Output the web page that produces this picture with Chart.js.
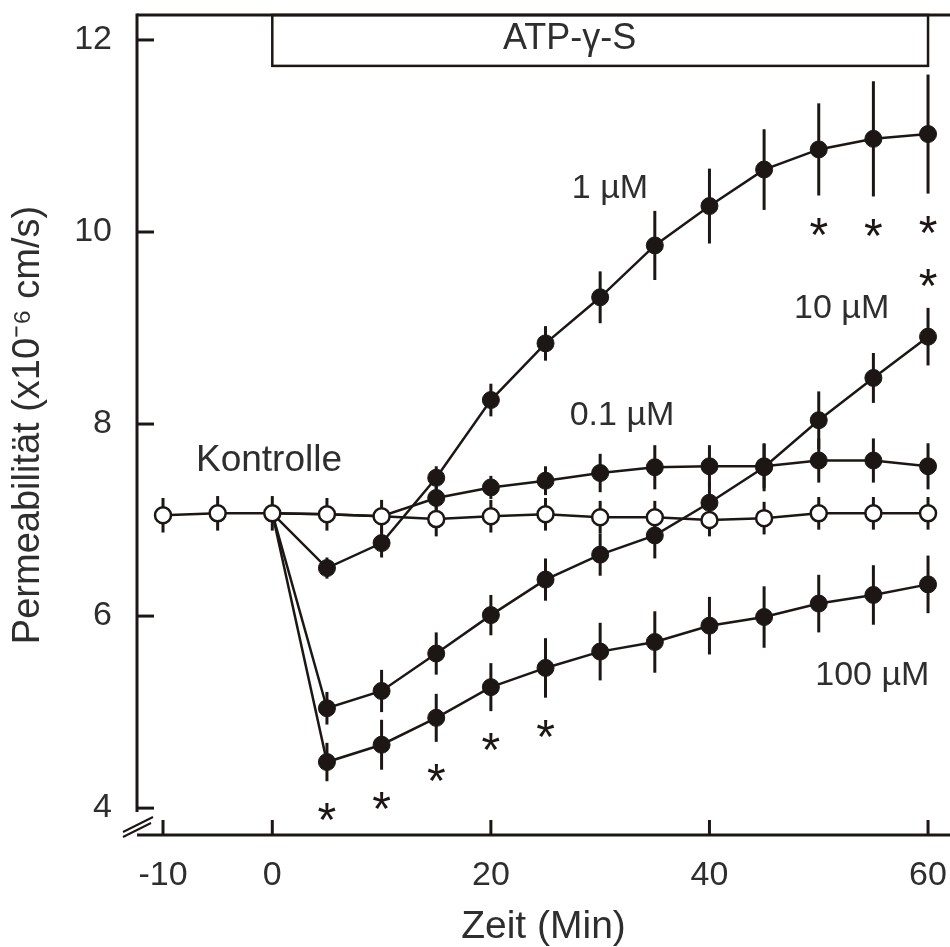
<!DOCTYPE html>
<html>
<head>
<meta charset="utf-8">
<script src="https://cdn.jsdelivr.net/npm/chart.js@4.4.1/dist/chart.umd.min.js"></script>
<style>
  html, body { margin: 0; padding: 0; background: #fff; }
  #wrap { width: 950px; height: 947px; }
</style>
</head>
<body>
<div id="wrap"><canvas id="chart" width="950" height="947"></canvas></div>
<script>
// time in minutes, ATP-gamma-S added at 0
const minutes = [-10, -5, 0, 5, 10, 15, 20, 25, 30, 35, 40, 45, 50, 55, 60];
const xTicks = [-10, 0, 20, 40, 60];
const yTicks = [4, 6, 8, 10, 12];
const atpPeriod = [0, 60];

const kontrolle    = [7.05, 7.07, 7.07, 7.06, 7.04, 7.01, 7.04, 7.06, 7.03, 7.03, 7.00, 7.02, 7.07, 7.07, 7.07];
const kontrolleErr = [0.18, 0.18, 0.18, 0.17, 0.17, 0.18, 0.17, 0.17, 0.17, 0.17, 0.17, 0.17, 0.17, 0.17, 0.17];

const atp01    = [null, null, 7.07, 7.06, 7.04, 7.23, 7.34, 7.41, 7.49, 7.55, 7.56, 7.56, 7.62, 7.62, 7.56];
const atp01Err = [null, null, null, null, null, 0.12, 0.12, 0.15, 0.20, 0.23, 0.22, 0.23, 0.23, 0.23, 0.24];

const atp1    = [null, null, 7.07, 6.50, 6.76, 7.44, 8.25, 8.84, 9.32, 9.86, 10.27, 10.65, 10.86, 10.97, 11.02];
const atp1Err = [null, null, null, 0.11, 0.15, 0.12, 0.17, 0.18, 0.27, 0.36, 0.39, 0.42, 0.48, 0.60, 0.62];

const atp10    = [null, null, 7.07, 5.04, 5.22, 5.61, 6.01, 6.38, 6.64, 6.84, 7.18, 7.55, 8.04, 8.48, 8.91];
const atp10Err = [null, null, null, 0.17, 0.22, 0.22, 0.21, 0.22, 0.22, 0.24, 0.22, 0.25, 0.30, 0.26, 0.30];

const atp100    = [null, null, 7.07, 4.48, 4.66, 4.94, 5.26, 5.46, 5.63, 5.73, 5.90, 5.99, 6.13, 6.22, 6.33];
const atp100Err = [null, null, null, 0.20, 0.26, 0.25, 0.25, 0.31, 0.30, 0.32, 0.30, 0.32, 0.30, 0.31, 0.30];

// significant time points (*)
const sig1 = [50, 55, 60];
const sig10 = [60];
const sig100 = [5, 10, 15, 20, 25];

const ink = '#1c1715';
const textInk = '#2e2e2e';
const family = '"Liberation Sans", Arial, Helvetica, sans-serif';

// text placed in the plot (x in min, y in units of the axis)
const notes = [
  { text: 'Kontrolle', x: -0.3, y: 7.65, size: 37 },
  { text: '1 µM', x: 30.9, y: 10.44, size: 34 },
  { text: '0.1 µM', x: 32.0, y: 8.07, size: 34 },
  { text: '10 µM', x: 52.1, y: 9.19, size: 34 },
  { text: '100 µM', x: 54.9, y: 5.37, size: 34 },
  { text: 'ATP-γ-S', x: 27.2, y: 12.0, size: 36 }
];

function series(values) {
  return minutes.map((m, i) => ({ x: m, y: values[i] }));
}

function line(ctx, x0, y0, x1, y1) {
  ctx.beginPath();
  ctx.moveTo(x0, y0);
  ctx.lineTo(x1, y1);
  ctx.stroke();
}

function centeredText(ctx, text, cx, cy) {
  const m = ctx.measureText(text);
  ctx.textAlign = 'center';
  ctx.textBaseline = 'alphabetic';
  ctx.fillText(text, cx, cy + (m.actualBoundingBoxAscent - m.actualBoundingBoxDescent) / 2);
}

function filled(label, values, errors, sig, sigDir, hideUpTo) {
  return {
    label: label,
    data: series(values),
    errors: errors,
    sig: sig,
    sigDir: sigDir,
    borderColor: ink,
    borderWidth: 2.5,
    backgroundColor: ink,
    pointBackgroundColor: ink,
    pointBorderColor: ink,
    pointBorderWidth: 1,
    pointRadius: (c) => (c.dataIndex <= hideUpTo ? 0 : 8.5),
    tension: 0
  };
}

const frame = {
  id: 'frame',
  beforeDatasetsDraw(chart) {
    const { ctx, chartArea: a, scales: { x, y } } = chart;
    ctx.save();
    ctx.strokeStyle = ink;
    ctx.lineWidth = 3;
    line(ctx, a.left, a.top - 1.5, a.left, y.getPixelForValue(3.96));
    line(ctx, a.left, a.top, chart.width, a.top);
    line(ctx, a.left, a.bottom, chart.width, a.bottom);
    yTicks.forEach((v) => {
      const py = y.getPixelForValue(v);
      line(ctx, a.left, py, a.left + 17, py);
    });
    xTicks.forEach((v) => {
      const px = x.getPixelForValue(v);
      line(ctx, px, a.bottom, px, a.bottom - 15);
    });
    // axis break
    ctx.lineWidth = 2;
    line(ctx, a.left - 14, a.bottom - 3, a.left + 16, a.bottom - 18);
    line(ctx, a.left - 14, a.bottom + 2, a.left + 14, a.bottom - 12);
    // treatment bar
    ctx.lineWidth = 2.5;
    const bx0 = x.getPixelForValue(atpPeriod[0]);
    const bx1 = x.getPixelForValue(atpPeriod[1]);
    ctx.strokeRect(bx0, a.top, bx1 - bx0, y.getPixelForValue(11.73) - a.top);
    // error bars
    ctx.lineWidth = 3;
    chart.data.datasets.forEach((ds) => {
      ds.data.forEach((p, i) => {
        const e = ds.errors[i];
        if (p.y == null || e == null) return;
        const px = x.getPixelForValue(p.x);
        line(ctx, px, y.getPixelForValue(p.y - e), px, y.getPixelForValue(p.y + e));
      });
    });
    ctx.restore();
  },
  afterDatasetsDraw(chart) {
    const { ctx, scales: { x, y } } = chart;
    ctx.save();
    ctx.fillStyle = textInk;
    notes.forEach((n) => {
      ctx.font = n.size + 'px ' + family;
      centeredText(ctx, n.text, x.getPixelForValue(n.x), y.getPixelForValue(n.y));
    });
    ctx.fillStyle = ink;
    ctx.font = '48px ' + family;
    chart.data.datasets.forEach((ds) => {
      (ds.sig || []).forEach((m) => {
        const i = minutes.indexOf(m);
        const v = ds.data[i].y + ds.sigDir * (ds.errors[i] + 0.32);
        centeredText(ctx, '*', x.getPixelForValue(m), y.getPixelForValue(v));
      });
    });
    ctx.restore();
  }
};

Chart.defaults.font.family = family;
Chart.defaults.color = textInk;

new Chart(document.getElementById('chart'), {
  type: 'line',
  data: {
    datasets: [
      {
        label: 'Kontrolle',
        data: series(kontrolle),
        errors: kontrolleErr,
        borderColor: ink,
        borderWidth: 2.5,
        pointBackgroundColor: '#ffffff',
        pointBorderColor: ink,
        pointBorderWidth: 2.5,
        pointRadius: 8,
        tension: 0
      },
      filled('0.1 µM', atp01, atp01Err, [], 1, 4),
      filled('1 µM', atp1, atp1Err, sig1, -1, 2),
      filled('10 µM', atp10, atp10Err, sig10, 1, 2),
      filled('100 µM', atp100, atp100Err, sig100, -1, 2)
    ]
  },
  options: {
    responsive: false,
    animation: false,
    devicePixelRatio: 1,
    layout: { autoPadding: false, padding: { top: 15, right: 0, bottom: 0, left: 0 } },
    plugins: {
      legend: { display: false },
      tooltip: { enabled: false }
    },
    scales: {
      x: {
        type: 'linear',
        position: 'bottom',
        min: -12.38,
        max: 62.01,
        afterBuildTicks: (s) => { s.ticks = xTicks.map((v) => ({ value: v })); },
        afterFit: (s) => { s.height = 112; s.paddingLeft = 0; s.paddingRight = 0; },
        grid: { display: false, drawTicks: false },
        border: { display: false },
        ticks: { padding: 20, font: { size: 34 }, color: textInk, maxRotation: 0, autoSkip: false },
        title: {
          display: true,
          text: 'Zeit (Min)',
          font: { size: 39, lineHeight: 1 },
          color: textInk,
          padding: { top: 0, bottom: 0 }
        }
      },
      y: {
        type: 'linear',
        min: 3.72,
        max: 12.26,
        afterBuildTicks: (s) => { s.ticks = yTicks.map((v) => ({ value: v })); },
        afterFit: (s) => { s.width = 137; s.paddingTop = 0; s.paddingBottom = 0; },
        grid: { display: false, drawTicks: false },
        border: { display: false },
        ticks: { padding: 25, font: { size: 34 }, color: textInk },
        title: {
          display: true,
          text: 'Permeabilität (x10⁻⁶ cm/s)',
          font: { size: 38, lineHeight: 1 },
          color: textInk,
          padding: { top: 10, bottom: 0 }
        }
      }
    }
  },
  plugins: [frame]
});
</script>
</body>
</html>
